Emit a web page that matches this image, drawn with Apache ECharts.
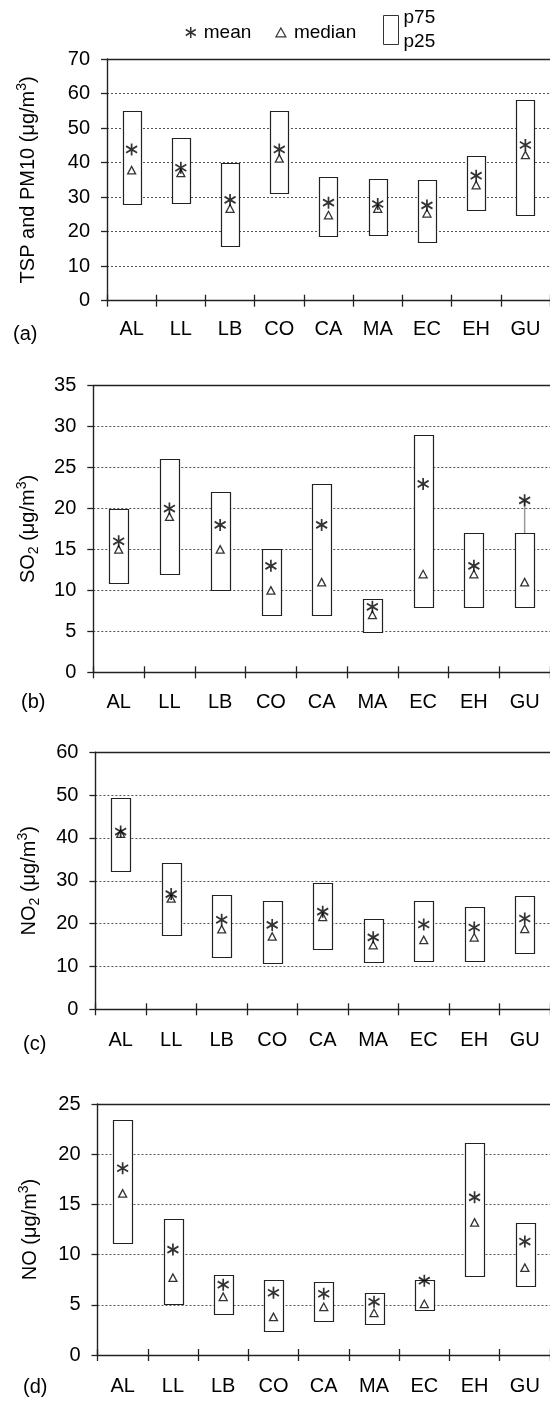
<!DOCTYPE html>
<html>
<head>
<meta charset="utf-8">
<script src="https://cdn.jsdelivr.net/npm/echarts@6/dist/echarts.min.js"></script>
<style>
  html, body { margin: 0; padding: 0; background: #fff; }
  #chart { width: 550px; height: 1402px; }
</style>
</head>
<body>
<div id="chart"></div>
<script>
var sites = ['AL', 'LL', 'LB', 'CO', 'CA', 'MA', 'EC', 'EH', 'GU']

// (a) TSP and PM10
var tspP25 = [28.2, 28.2, 16.1, 31.3, 18.5, 18.9, 17.0, 26.4, 24.8]
var tspP75 = [55, 47, 40, 55, 35.7, 35.2, 34.9, 42, 58.2]
var tspMean = [43.8, 38.5, 29.2, 43.8, 28.4, 28, 27.6, 36.2, 45.1]
var tspMedian = [37.8, 37, 26.7, 41.2, 24.8, 26.7, 25.3, 33.5, 42.2]

// (b) SO2
var so2P25 = [11, 12, 10, 7, 7, 5, 8, 8, 8]
var so2P75 = [20, 26.1, 22, 15, 23, 9, 29, 17, 17]
var so2Mean = [16, 20, 18, 13, 18, 8, 23, 13, 21]
var so2Median = [15, 19, 15, 10, 11, 7, 12, 12, 11]

// (c) NO2
var no2P25 = [32.3, 17.3, 12.1, 11, 14.1, 11, 11.3, 11.4, 13.3]
var no2P75 = [49.3, 34.1, 26.6, 25.4, 29.6, 21.1, 25.4, 24, 26.5]
var no2Mean = [41.5, 26.9, 20.9, 19.7, 22.8, 16.8, 19.8, 19.1, 21.2]
var no2Median = [41, 25.9, 18.7, 17, 21.6, 15, 16.2, 16.8, 18.8]

// (d) NO
var noP25 = [11.1, 5.0, 4.1, 2.4, 3.4, 3.1, 4.5, 7.9, 6.8]
var noP75 = [23.4, 13.5, 8, 7.5, 7.3, 6.2, 7.5, 21.1, 13.1]
var noMean = [18.6, 10.5, 7, 6.2, 6.1, 5.3, 7.4, 15.7, 11.3]
var noMedian = [16.1, 7.7, 5.8, 3.8, 4.8, 4.2, 5.1, 13.2, 8.7]

var FONT = 'Liberation Sans, Arial, sans-serif'
var meanPath = 'path://M5,0L5,11M0,2.5L10,8.5M0,8.5L10,2.5'
var triPath = 'path://M0,8L4.5,0L9,8Z'

var panels = [
  { tag: '(a)', name: 'TSP and PM10 (μg/m{p|3})', max: 70, interval: 10,
    p25: tspP25, p75: tspP75, mean: tspMean, median: tspMedian,
    left: 107, top: 59, height: 241.7, width: 444.6, nameGap: 66, labelMargin: 19, tagX: 13, tagY: 324 },
  { tag: '(b)', name: 'SO{s|2} (μg/m{p|3})', max: 35, interval: 5,
    p25: so2P25, p75: so2P75, mean: so2Mean, median: so2Median,
    left: 93.3, top: 385.7, height: 286.6, width: 461.7, nameGap: 52, labelMargin: 20, tagX: 21, tagY: 692 },
  { tag: '(c)', name: 'NO{s|2} (μg/m{p|3})', max: 60, interval: 10,
    p25: no2P25, p75: no2P75, mean: no2Mean, median: no2Median,
    left: 95.4, top: 752.3, height: 257, width: 456, nameGap: 53, labelMargin: 21, tagX: 23, tagY: 1034 },
  { tag: '(d)', name: 'NO (μg/m{p|3})', max: 25, interval: 5,
    p25: noP25, p75: noP75, mean: noMean, median: noMedian,
    left: 97.5, top: 1104, height: 251, width: 454.5, nameGap: 54, labelMargin: 21, tagX: 23, tagY: 1377 }
]

function renderBox(params, api) {
  var x = api.value(0)
  var lo = api.coord([x, api.value(1)])
  var hi = api.coord([x, api.value(2)])
  var mean = api.value(3)
  var w = api.size([1, 0])[0] * 0.37
  var children = []
  if (mean > api.value(2)) {
    var m = api.coord([x, mean])
    children.push({
      type: 'line',
      shape: { x1: hi[0], y1: hi[1], x2: m[0], y2: m[1] },
      style: { stroke: '#999', lineWidth: 1.5 }
    })
  }
  children.push({
    type: 'rect',
    shape: { x: Math.round(lo[0] - w / 2) + 0.5, y: Math.round(hi[1]) + 0.5, width: Math.round(w), height: Math.round(lo[1] - hi[1]) },
    style: { fill: '#fff', stroke: '#222', lineWidth: 1.2 }
  })
  return { type: 'group', children: children }
}

var grids = []
var xAxes = []
var yAxes = []
var series = []
var graphics = []
var axisColor = '#222'

panels.forEach(function(p, i) {
  grids.push({ left: p.left, top: p.top, width: p.width, height: p.height, containLabel: false })
  xAxes.push({
    gridIndex: i, type: 'category', data: sites, position: 'bottom',
    axisLine: { lineStyle: { color: axisColor, width: 1.4 } },
    axisTick: { show: true, interval: 0, length: 6, lineStyle: { color: axisColor, width: 1.3 } },
    axisLabel: { fontSize: 20, fontFamily: FONT, color: '#000', margin: p.labelMargin },
    splitLine: { show: false }
  })
  xAxes.push({
    gridIndex: i, type: 'category', data: sites, position: 'bottom',
    axisLine: { show: false },
    axisTick: { show: true, interval: 0, inside: true, length: 6, lineStyle: { color: axisColor, width: 1.3 } },
    axisLabel: { show: false },
    splitLine: { show: false }
  })
  xAxes.push({
    gridIndex: i, type: 'category', data: sites, position: 'top',
    axisLine: { lineStyle: { color: axisColor, width: 1.4 } },
    axisTick: { show: false },
    axisLabel: { show: false },
    splitLine: { show: false }
  })
  yAxes.push({
    gridIndex: i, type: 'value', min: 0, max: p.max, interval: p.interval,
    axisLine: { show: true, lineStyle: { color: axisColor, width: 1.4 } },
    axisTick: { show: true, length: 6, lineStyle: { color: axisColor, width: 1.3 } },
    axisLabel: { fontSize: 20, fontFamily: FONT, color: '#000', margin: 17 },
    splitLine: { lineStyle: { type: [2, 2], color: '#555', width: 1 } },
    name: p.name,
    nameLocation: 'middle',
    nameRotate: 90,
    nameGap: p.nameGap,
    nameTextStyle: {
      fontSize: 20, fontFamily: FONT, color: '#000', lineHeight: 26,
      rich: {
        p: { fontSize: 14, fontFamily: FONT, color: '#000', verticalAlign: 'top', lineHeight: 26 },
        s: { fontSize: 14, fontFamily: FONT, color: '#000', verticalAlign: 'bottom', lineHeight: 20 }
      }
    }
  })
  series.push({
    name: 'p75/p25', type: 'custom', xAxisIndex: i * 3, yAxisIndex: i,
    renderItem: renderBox,
    itemStyle: { color: '#fff', borderColor: '#222' },
    data: sites.map(function(s, k) { return [k, p.p25[k], p.p75[k], p.mean[k]] }),
    z: 2
  })
  series.push({
    name: 'mean', type: 'scatter', xAxisIndex: i * 3, yAxisIndex: i,
    symbol: meanPath, symbolSize: [11, 12],
    itemStyle: { color: '#000', borderColor: '#000', borderWidth: 1.8 },
    data: p.mean, z: 4
  })
  series.push({
    name: 'median', type: 'scatter', xAxisIndex: i * 3, yAxisIndex: i,
    symbol: triPath, symbolSize: [8, 7.5],
    itemStyle: { color: 'rgba(0,0,0,0)', borderColor: '#000', borderWidth: 1.3 },
    data: p.median, z: 3
  })
  graphics.push({
    type: 'text', left: p.tagX, top: p.tagY,
    style: { text: p.tag, font: '20px ' + FONT, fill: '#000' }
  })
})

var chart = echarts.init(document.getElementById('chart'), null, { renderer: 'canvas' })
chart.setOption({
  animation: false,
  backgroundColor: '#fff',
  textStyle: { fontFamily: FONT },
  legend: [
    {
      left: 180, top: 18, itemWidth: 10, itemHeight: 11, itemGap: 24,
      selectedMode: false,
      textStyle: { fontSize: 19, fontFamily: FONT, color: '#000', padding: [0, 0, 0, 3] },
      data: [
        { name: 'mean', icon: meanPath, itemStyle: { color: '#000', borderColor: '#000', borderWidth: 1.5 } },
        { name: 'median', icon: triPath, itemStyle: { color: 'rgba(0,0,0,0)', borderColor: '#000', borderWidth: 1.2 } }
      ]
    },
    {
      left: 378, top: 1, itemWidth: 15, itemHeight: 29,
      selectedMode: false,
      formatter: function() { return 'p75\np25' },
      textStyle: { fontSize: 19, fontFamily: FONT, color: '#000', lineHeight: 24 },
      data: [
        { name: 'p75/p25', icon: 'rect', itemStyle: { color: '#fff', borderColor: '#333', borderWidth: 1 } }
      ]
    }
  ],
  grid: grids,
  xAxis: xAxes,
  yAxis: yAxes,
  series: series,
  graphic: graphics
})
</script>
</body>
</html>
